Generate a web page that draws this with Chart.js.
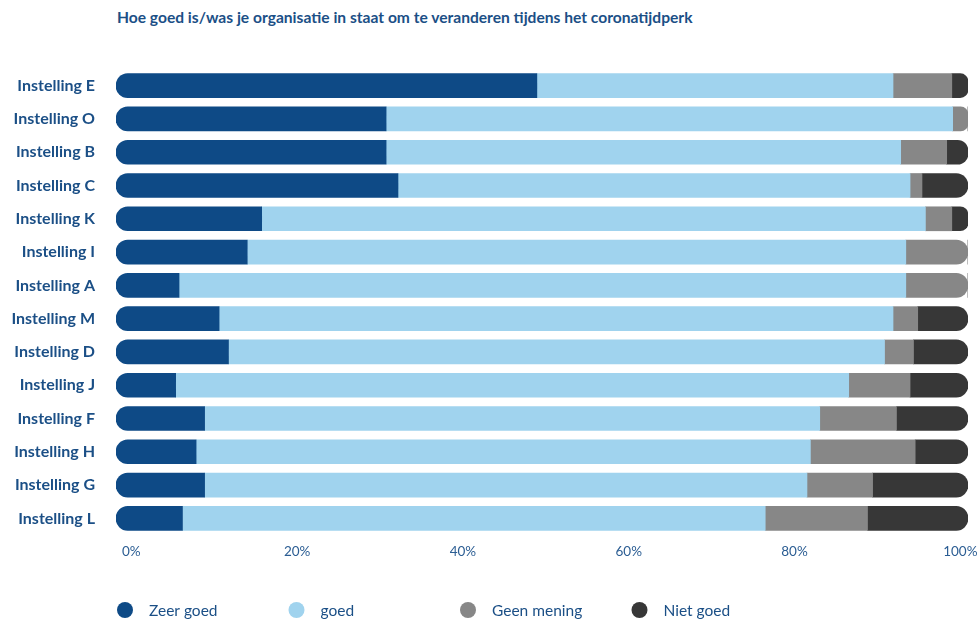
<!DOCTYPE html>
<html>
<head>
<meta charset="utf-8">
<script src="https://cdn.jsdelivr.net/npm/chart.js@4.4.1/dist/chart.umd.min.js"></script>
<style>
  html, body { margin: 0; padding: 0; background: #ffffff; }
  #wrap { position: relative; width: 980px; height: 621px; }
  #title {
    position: absolute; left: 117px; top: 8px;
    font-family: Lato, "Open Sans", sans-serif; font-weight: bold; font-size: 15.6px;
    color: #1b4f86; white-space: nowrap;
  }
  canvas { position: absolute; left: 0; top: 0; }
</style>
</head>
<body>
<div id="wrap">
  <div id="title">Hoe goed is/was je organisatie in staat om te veranderen tijdens het coronatijdperk</div>
  <canvas id="chart" width="980" height="621"></canvas>
</div>
<script>
// Instellingen, van boven naar beneden
const categories = [
  'Instelling E', 'Instelling O', 'Instelling B', 'Instelling C', 'Instelling K',
  'Instelling I', 'Instelling A', 'Instelling M', 'Instelling D', 'Instelling J',
  'Instelling F', 'Instelling H', 'Instelling G', 'Instelling L'
];

// Aandeel antwoorden per instelling (%)
const zeerGoed   = [49.4, 31.7, 31.7, 33.1, 17.1, 15.4,  7.4, 12.1, 13.2,  7.0, 10.4,  9.4, 10.4,  7.8];
const goed       = [41.8, 66.5, 60.4, 60.1, 77.9, 77.3, 85.3, 79.1, 77.0, 79.0, 72.2, 72.1, 70.7, 68.4];
const geenMening = [ 6.9,  1.8,  5.4,  1.4,  3.1,  7.3,  7.3,  2.9,  3.4,  7.2,  9.0, 12.3,  7.7, 12.0];
const nietGoed   = [ 1.9,  0.0,  2.5,  5.4,  1.9,  0.0,  0.0,  5.9,  6.4,  6.8,  8.4,  6.2, 11.2, 11.8];

const seriesLabels = ['Zeer goed', 'goed', 'Geen mening', 'Niet goed'];
const tickValues = [0, 20, 40, 60, 80, 100];

const seriesValues = [zeerGoed, goed, geenMening, nietGoed];
const seriesColors = ['#0e4a86', '#a0d3ee', '#878787', '#373737'];
const labelColor = '#1b4f86';
const R = 12;

// Round only the outer ends of each stacked row
function endRadius(ctx) {
  const i = ctx.dataIndex, d = ctx.datasetIndex;
  const row = seriesValues.map(s => s[i]);
  let first = -1, last = -1;
  row.forEach((v, k) => { if (v > 0) { if (first < 0) first = k; last = k; } });
  return {
    topLeft: d === first ? R : 0,
    bottomLeft: d === first ? R : 0,
    topRight: d === last ? R : 0,
    bottomRight: d === last ? R : 0
  };
}

// Legend in fixed columns under the chart
const columnLegend = {
  id: 'columnLegend',
  afterDraw(chart) {
    const ctx = chart.ctx;
    ctx.save();
    ctx.font = '15.5px Lato, "Open Sans", sans-serif';
    ctx.textBaseline = 'middle';
    ctx.textAlign = 'left';
    chart.data.datasets.forEach((ds, k) => {
      const cx = 125 + k * 171.5, cy = 610;
      ctx.fillStyle = ds.backgroundColor;
      ctx.beginPath();
      ctx.arc(cx, cy, 8, 0, Math.PI * 2);
      ctx.fill();
      ctx.fillStyle = labelColor;
      ctx.fillText(ds.label, cx + 24, cy + 1);
    });
    ctx.restore();
  }
};

new Chart(document.getElementById('chart'), {
  type: 'bar',
  data: {
    labels: categories,
    datasets: seriesValues.map((vals, k) => ({
      label: seriesLabels[k],
      data: vals,
      backgroundColor: seriesColors[k],
      borderWidth: 0,
      borderSkipped: false,
      borderRadius: endRadius,
      barThickness: 24
    }))
  },
  options: {
    indexAxis: 'y',
    responsive: false,
    animation: false,
    layout: { padding: { left: 0, right: 12, top: 69, bottom: 61 } },
    plugins: {
      legend: { display: false },
      tooltip: { enabled: false },
      title: { display: false }
    },
    scales: {
      x: {
        stacked: true, min: 0, max: 100, display: false
      },
      x2: {
        type: 'linear', position: 'bottom', min: -1.85, max: 100.93,
        grid: { display: false, drawTicks: false }, border: { display: false },
        afterBuildTicks: s => { s.ticks = tickValues.map(v => ({ value: v })); },
        afterFit: s => { s.height = 25; s.paddingLeft = 0; s.paddingRight = 0; },
        ticks: {
          padding: 9, maxRotation: 0, autoSkip: false,
          color: '#2b5d93',
          font: { family: 'Lato, "Open Sans", sans-serif', size: 13.5 },
          callback: v => v + '%'
        }
      },
      y: {
        stacked: true,
        grid: { display: false, drawTicks: false }, border: { display: false },
        afterFit: s => { s.width = 116; },
        ticks: {
          padding: 21, color: labelColor,
          font: { family: 'Lato, "Open Sans", sans-serif', size: 16, weight: 'bold' }
        }
      }
    }
  },
  plugins: [columnLegend]
});
</script>
</body>
</html>
